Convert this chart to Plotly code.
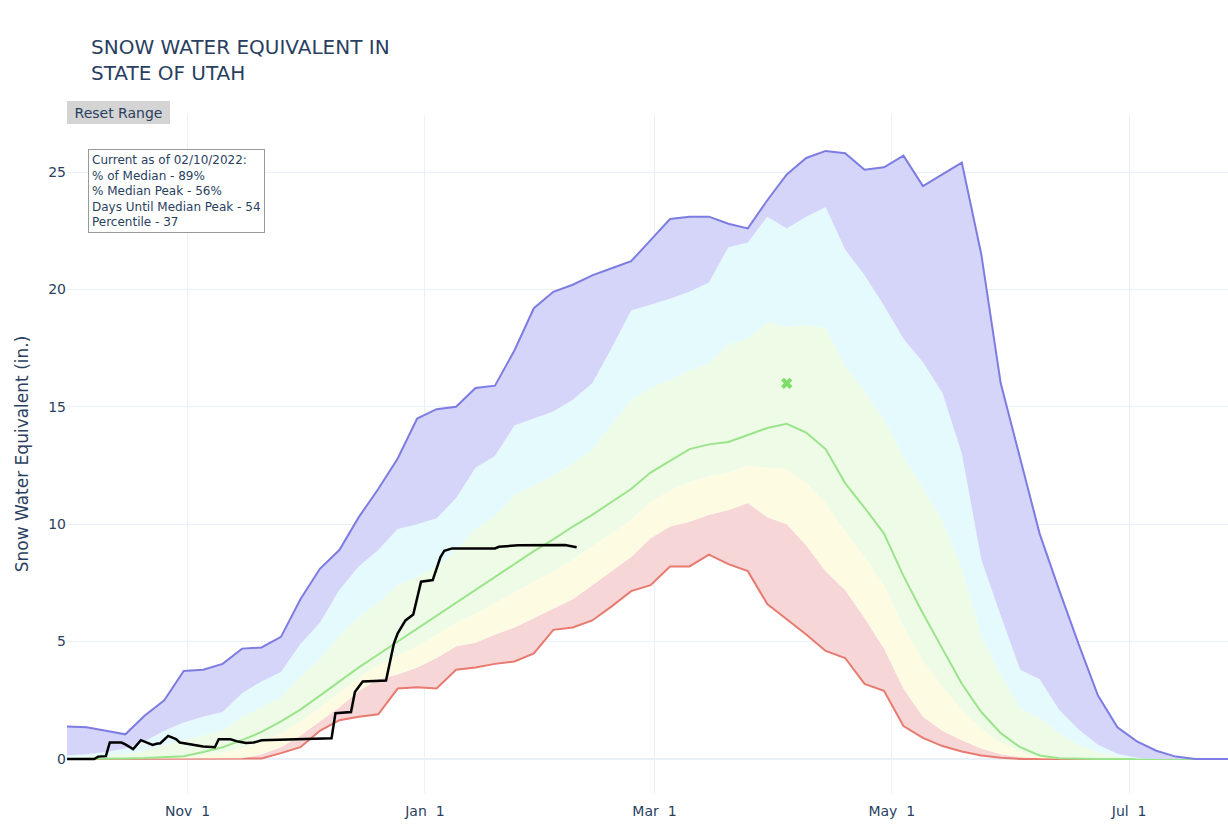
import plotly.graph_objects as go
import pandas as pd

# ---- data ----
dates = pd.date_range("2021-10-01", periods=61, freq="5D")

swe_min = [0, 0, 0, 0, 0, 0, 0, 0, 0, 0,
           0.02, 0.25, 0.5, 1.2, 1.65, 1.8, 1.9, 3.0, 3.05, 3.0,
           3.8, 3.9, 4.05, 4.15, 4.5, 5.5, 5.6, 5.9, 6.5, 7.15,
           7.4, 8.2, 8.2, 8.7, 8.3, 8.0, 6.6, 5.95, 5.3, 4.6,
           4.3, 3.2, 2.9, 1.4, 0.9, 0.55, 0.32, 0.15, 0.05, 0,
           0, 0, 0, 0, 0, 0, 0, 0, 0, 0, 0]

swe_p10 = [0, 0, 0, 0, 0, 0, 0, 0, 0, 0.03,
           0.2, 0.5, 1.0, 1.6, 2.2, 2.9, 3.4, 3.6, 3.9, 4.3,
           4.8, 4.95, 5.3, 5.6, 6.0, 6.4, 6.8, 7.4, 8.0, 8.6,
           9.4, 9.9, 10.1, 10.4, 10.6, 10.9, 10.3, 10.0, 9.1, 8.0,
           7.2, 6.0, 4.7, 3.0, 1.8, 1.2, 0.8, 0.45, 0.2, 0.08,
           0.03, 0, 0, 0, 0, 0, 0, 0, 0, 0, 0]

swe_p30 = [0, 0, 0, 0.01, 0.02, 0.04, 0.07, 0.17, 0.28, 0.45,
           0.72, 1.1, 1.6, 2.2, 2.8, 3.45, 4.0, 4.4, 4.8, 5.3,
           5.8, 6.2, 6.65, 7.1, 7.55, 8.0, 8.5, 9.05, 9.6, 10.2,
           10.95, 11.45, 11.8, 12.05, 12.2, 12.5, 12.4, 12.35, 11.75, 10.9,
           9.7, 8.6, 7.4, 5.65, 4.2, 3.1, 2.1, 1.3, 0.7, 0.3,
           0.1, 0.02, 0, 0, 0, 0, 0, 0, 0, 0, 0]

swe_median = [0, 0, 0.01, 0.02, 0.04, 0.07, 0.12, 0.3, 0.5, 0.8,
              1.15, 1.6, 2.1, 2.7, 3.3, 3.9, 4.45, 5.0, 5.55, 6.1,
              6.65, 7.2, 7.75, 8.3, 8.85, 9.35, 9.9, 10.4, 10.95, 11.5,
              12.2, 12.7, 13.2, 13.4, 13.5, 13.8, 14.1, 14.28, 13.9, 13.2,
              11.75, 10.7, 9.6, 7.8, 6.2, 4.7, 3.2, 2.0, 1.1, 0.5,
              0.15, 0.03, 0, 0, 0, 0, 0, 0, 0, 0, 0]

swe_p70 = [0.07, 0.1, 0.15, 0.22, 0.35, 0.6, 0.8, 1.0, 1.2, 1.8,
           2.2, 2.65, 3.5, 4.25, 5.25, 6.05, 6.65, 7.4, 7.75, 8.2,
           8.85, 9.8, 10.35, 11.25, 11.65, 12.05, 12.6, 13.2, 14.25, 15.3,
           15.8, 16.15, 16.55, 16.85, 17.65, 17.9, 18.6, 18.4, 18.5, 18.35,
           16.75, 15.65, 14.45, 12.85, 11.55, 10.15, 8.1, 5.25, 3.6, 2.15,
           1.75, 1.1, 0.6, 0.3, 0.1, 0.02, 0, 0, 0, 0, 0]

swe_p90 = [0.15, 0.2, 0.3, 0.45, 0.75, 1.2, 1.55, 1.8, 2.0, 2.8,
           3.3, 3.7, 4.9, 5.8, 7.2, 8.2, 8.9, 9.8, 10.0, 10.25,
           11.1, 12.4, 12.9, 14.2, 14.5, 14.8, 15.3, 16.0, 17.5, 19.1,
           19.35, 19.6, 19.9, 20.3, 21.8, 22.0, 23.1, 22.6, 23.1, 23.5,
           21.7, 20.6, 19.3, 17.9, 16.9, 15.6, 13.0, 8.5, 6.1, 3.8,
           3.4, 2.1, 1.25, 0.6, 0.22, 0.05, 0, 0, 0, 0, 0]

swe_max = [1.38, 1.35, 1.2, 1.05, 1.85, 2.5, 3.75, 3.8, 4.05, 4.7,
           4.75, 5.2, 6.8, 8.1, 8.9, 10.3, 11.5, 12.8, 14.5, 14.9,
           15.0, 15.8, 15.9, 17.4, 19.2, 19.9, 20.2, 20.6, 20.9, 21.2,
           22.1, 23.0, 23.1, 23.1, 22.8, 22.6, 23.8, 24.9, 25.6, 25.9,
           25.8, 25.1, 25.2, 25.7, 24.4, 24.9, 25.4, 21.5, 16.0, 12.8,
           9.6, 7.2, 4.9, 2.7, 1.35, 0.75, 0.35, 0.1, 0, 0, 0]

current_dates = ["2021-10-01", "2021-10-08", "2021-10-09", "2021-10-11", "2021-10-12",
                 "2021-10-14", "2021-10-15", "2021-10-16", "2021-10-18", "2021-10-20",
                 "2021-10-23", "2021-10-24", "2021-10-25", "2021-10-27", "2021-10-29",
                 "2021-10-30", "2021-11-02", "2021-11-05", "2021-11-08", "2021-11-09",
                 "2021-11-12", "2021-11-14", "2021-11-16", "2021-11-18", "2021-11-20",
                 "2021-11-27", "2021-11-30", "2021-12-08", "2021-12-09", "2021-12-13",
                 "2021-12-14", "2021-12-16", "2021-12-22", "2021-12-24", "2021-12-25",
                 "2021-12-27", "2021-12-29", "2021-12-31", "2022-01-03", "2022-01-05",
                 "2022-01-06", "2022-01-08", "2022-01-19", "2022-01-20", "2022-01-25",
                 "2022-02-06", "2022-02-09"]
current_swe = [0, 0, 0.1, 0.12, 0.7,
               0.68, 0.7, 0.62, 0.42, 0.8,
               0.6, 0.65, 0.67, 0.98, 0.85,
               0.7, 0.6, 0.53, 0.5, 0.84,
               0.84, 0.74, 0.68, 0.7, 0.8,
               0.84, 0.84, 0.88, 1.95, 2.0,
               2.85, 3.3, 3.34, 4.9, 5.35,
               5.9, 6.15, 7.55, 7.62, 8.6,
               8.87, 8.97, 8.97, 9.04, 9.1,
               9.11, 9.02]

median_peak_date = ["2022-04-04"]
median_peak_swe = [16.0]

x_range = ["2021-10-01", "2022-07-26 10:00"]
y_range = [-1.45, 27.43]

info_lines = ["Current as of 02/10/2022:",
              "% of Median - 89%",
              "% Median Peak - 56%",
              "Days Until Median Peak - 54",
              "Percentile - 37"]

FONT = "DejaVu Sans, Verdana, sans-serif"

fig = go.Figure()

fig.add_trace(go.Scatter(x=dates, y=swe_min, name="Min", mode="lines",
                         line=dict(color="rgb(232,122,112)", width=2)))
fig.add_trace(go.Scatter(x=dates, y=swe_p10, name="10%", mode="lines",
                         line=dict(width=0, color="rgba(0,0,0,0)"),
                         fill="tonexty", fillcolor="rgb(246,214,214)"))
fig.add_trace(go.Scatter(x=dates, y=swe_p30, name="30%", mode="lines",
                         line=dict(width=0, color="rgba(0,0,0,0)"),
                         fill="tonexty", fillcolor="rgb(253,251,226)"))
fig.add_trace(go.Scatter(x=dates, y=swe_median, name="Median", mode="lines",
                         line=dict(color="rgb(155,228,140)", width=2),
                         fill="tonexty", fillcolor="rgb(238,251,231)"))
fig.add_trace(go.Scatter(x=dates, y=swe_p70, name="70%", mode="lines",
                         line=dict(width=0, color="rgba(0,0,0,0)"),
                         fill="tonexty", fillcolor="rgb(238,251,231)"))
fig.add_trace(go.Scatter(x=dates, y=swe_p90, name="90%", mode="lines",
                         line=dict(width=0, color="rgba(0,0,0,0)"),
                         fill="tonexty", fillcolor="rgb(229,250,252)"))
fig.add_trace(go.Scatter(x=dates, y=swe_max, name="Max", mode="lines",
                         line=dict(color="rgb(124,124,226)", width=2),
                         fill="tonexty", fillcolor="rgb(213,213,250)"))
fig.add_trace(go.Scatter(x=current_dates, y=current_swe, name="WY2022", mode="lines",
                         line=dict(color="black", width=2.5)))
fig.add_trace(go.Scatter(x=median_peak_date, y=median_peak_swe, name="Median Peak",
                         mode="markers",
                         marker=dict(symbol="x", size=10, color="rgb(125,222,105)")))

fig.update_layout(
    template="plotly_white",
    width=1228, height=829,
    font=dict(family=FONT, size=14, color="#2a3f5f"),
    title=dict(text="SNOW WATER EQUIVALENT IN<br>STATE OF UTAH",
               x=91 / 1228, xanchor="left", xref="container",
               y=1 - 54 / 829, yanchor="top", yref="container",
               font=dict(size=20, family=FONT, color="#2a3f5f")),
    margin=dict(l=67, r=0, t=115, b=36),
    showlegend=False,
    xaxis=dict(type="date", range=x_range, tickformat="%b %e",
               dtick="M2", tick0="2021-11-01", showline=False,
               ticks="outside", ticklen=5, tickcolor="rgba(0,0,0,0)",
               tickfont=dict(size=14)),
    yaxis=dict(range=y_range, dtick=5, tickfont=dict(size=14),
               title=dict(text="Snow Water Equivalent (in.)", font=dict(size=17))),
    annotations=[
        dict(text="<br>".join(info_lines), xref="paper", yref="paper",
             x=0.018, y=0.95, xanchor="left", yanchor="top",
             align="left", showarrow=False,
             font=dict(size=12, family=FONT, color="#2a3f5f"),
             bgcolor="white", bordercolor="#999999", borderwidth=1,
             borderpad=3),
        dict(text="Reset Range", xref="paper", yref="paper",
             x=0, y=1.0206, xanchor="left", yanchor="top",
             showarrow=False, width=97, height=17, borderpad=3,
             bgcolor="#d4d4d4", bordercolor="#d4d4d4", borderwidth=0,
             font=dict(size=14, family=FONT, color="#2a3f5f")),
    ],
)

fig.write_html("out.html", config={"displayModeBar": False},
               post_script="document.body.style.margin='0px';")
